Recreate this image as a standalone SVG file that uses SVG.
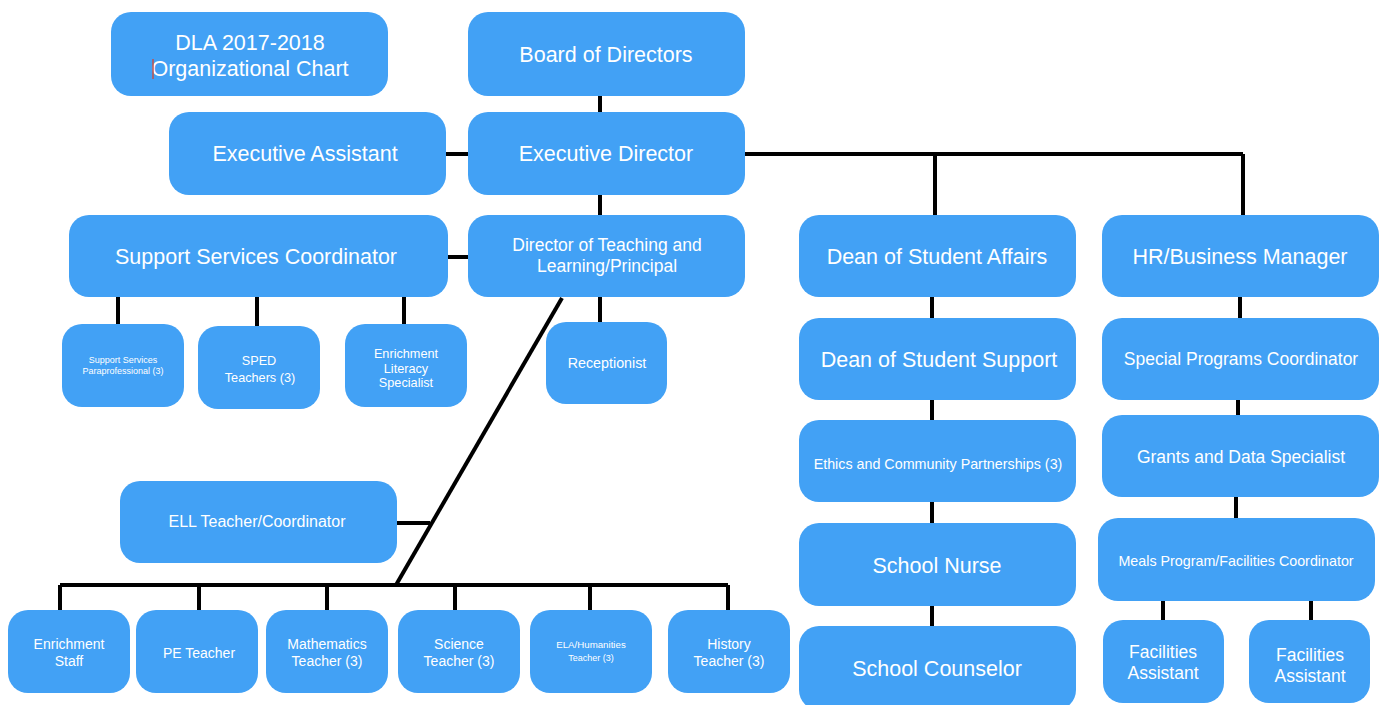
<svg xmlns="http://www.w3.org/2000/svg" width="1382" height="705" viewBox="0 0 1382 705">
<style>
.n rect{fill:#42a1f5;}
.n text{fill:#fff;font-family:"Liberation Sans",Arial,sans-serif;text-anchor:middle;}
.l{font-size:21.5px;}
.m{font-size:17.5px;}
.e{font-size:16px;}
.s{font-size:14.3px;}
.b{font-size:14px;}
.t{font-size:12.7px;}
.xs{font-size:9px;}
#edges path{stroke:#000;stroke-width:4;fill:none;}
</style>
<rect width="1382" height="705" fill="#fff"/>
<g id="edges">
<path d="M600 96V112"/>
<path d="M446 154H468"/>
<path d="M600 195V215"/>
<path d="M745 154H1243M935 154V215M1243 154V215"/>
<path d="M448 257H468"/>
<path d="M118 297V324M257 297V326M404 297V324"/>
<path d="M600 297V322"/>
<path d="M562 298L396 585" stroke-width="3"/>
<path d="M397 523H430"/>
<path d="M60 585H728M60 585V610M199 585V610M327 585V610M455 585V610M590 585V610M728 585V610"/>
<path d="M932 297V318M932 400V420M932 502V523M932 606V626"/>
<path d="M1240 297V318M1238 400V415M1236 497V518"/>
<path d="M1163 601V620M1311 601V620"/>
</g>
<g id="title" class="n"><rect x="111" y="12" width="277" height="84" rx="20"/><text class="l" x="250" y="50">DLA 2017-2018</text><text class="l" x="250" y="76">Organizational Chart</text><line x1="153" y1="59" x2="153" y2="79" stroke="#c0504d" stroke-width="1.5"/></g>
<g id="board" class="n"><rect x="468" y="12" width="277" height="84" rx="20"/><text class="l" x="606" y="62">Board of Directors</text></g>
<g id="exec-assistant" class="n"><rect x="169" y="112" width="277" height="83" rx="20"/><text class="l" x="305" y="161">Executive Assistant</text></g>
<g id="exec-director" class="n"><rect x="468" y="112" width="277" height="83" rx="20"/><text class="l" x="606" y="161">Executive Director</text></g>
<g id="ssc" class="n"><rect x="69" y="215" width="379" height="82" rx="20"/><text class="l" x="256" y="264">Support Services Coordinator</text></g>
<g id="dtl" class="n"><rect x="468" y="215" width="277" height="82" rx="20"/><text class="m" x="607" y="251">Director of Teaching and</text><text class="m" x="607" y="272">Learning/Principal</text></g>
<g id="dsa" class="n"><rect x="799" y="215" width="277" height="82" rx="20"/><text class="l" x="937" y="264">Dean of Student Affairs</text></g>
<g id="hr" class="n"><rect x="1102" y="215" width="277" height="82" rx="20"/><text class="l" x="1240" y="264">HR/Business Manager</text></g>
<g id="para" class="n"><rect x="62" y="324" width="122" height="83" rx="20"/><text class="xs" x="123" y="363">Support Services</text><text class="xs" x="123" y="374">Paraprofessional (3)</text></g>
<g id="sped" class="n"><rect x="198" y="326" width="122" height="83" rx="20"/><text class="t" x="259" y="365">SPED</text><text class="t" x="260" y="382">Teachers (3)</text></g>
<g id="els" class="n"><rect x="345" y="324" width="122" height="83" rx="20"/><text class="t" x="406" y="358">Enrichment</text><text class="t" x="406" y="373">Literacy</text><text class="t" x="406" y="387">Specialist</text></g>
<g id="receptionist" class="n"><rect x="546" y="322" width="121" height="82" rx="20"/><text class="s" x="607" y="368">Receptionist</text></g>
<g id="dss" class="n"><rect x="799" y="318" width="277" height="82" rx="20"/><text class="l" x="939" y="367">Dean of Student Support</text></g>
<g id="spc" class="n"><rect x="1102" y="318" width="277" height="82" rx="20"/><text class="m" x="1241" y="365">Special Programs Coordinator</text></g>
<g id="ethics" class="n"><rect x="799" y="420" width="277" height="82" rx="20"/><text class="s" x="938" y="469">Ethics and Community Partnerships (3)</text></g>
<g id="grants" class="n"><rect x="1102" y="415" width="277" height="82" rx="20"/><text class="m" x="1241" y="463">Grants and Data Specialist</text></g>
<g id="nurse" class="n"><rect x="799" y="523" width="277" height="83" rx="20"/><text class="l" x="937" y="573">School Nurse</text></g>
<g id="meals" class="n"><rect x="1098" y="518" width="277" height="83" rx="20"/><text class="s" x="1236" y="566">Meals Program/Facilities Coordinator</text></g>
<g id="counselor" class="n"><rect x="799" y="626" width="277" height="84" rx="20"/><text class="l" x="937" y="676">School Counselor</text></g>
<g id="fa1" class="n"><rect x="1103" y="620" width="121" height="83" rx="20"/><text class="m" x="1163" y="658">Facilities</text><text class="m" x="1163" y="679">Assistant</text></g>
<g id="fa2" class="n"><rect x="1249" y="620" width="121" height="83" rx="20"/><text class="m" x="1310" y="661">Facilities</text><text class="m" x="1310" y="682">Assistant</text></g>
<g id="ell" class="n"><rect x="120" y="481" width="277" height="82" rx="20"/><text class="e" x="257" y="527">ELL Teacher/Coordinator</text></g>
<g id="enrich-staff" class="n"><rect x="8" y="610" width="122" height="83" rx="20"/><text class="b" x="69" y="649">Enrichment</text><text class="b" x="69" y="666">Staff</text></g>
<g id="pe" class="n"><rect x="136" y="610" width="122" height="83" rx="20"/><text class="b" x="199" y="658">PE Teacher</text></g>
<g id="math" class="n"><rect x="266" y="610" width="122" height="83" rx="20"/><text class="b" x="327" y="649">Mathematics</text><text class="b" x="327" y="666">Teacher (3)</text></g>
<g id="science" class="n"><rect x="398" y="610" width="122" height="83" rx="20"/><text class="b" x="459" y="649">Science</text><text class="b" x="459" y="666">Teacher (3)</text></g>
<g id="ela" class="n"><rect x="530" y="610" width="122" height="83" rx="20"/><text class="xs" x="591" y="648" style="font-size:9.7px">ELA/Humanities</text><text class="xs" x="591" y="661">Teacher (3)</text></g>
<g id="history" class="n"><rect x="668" y="610" width="122" height="83" rx="20"/><text class="b" x="729" y="649">History</text><text class="b" x="729" y="666">Teacher (3)</text></g>
</svg>
